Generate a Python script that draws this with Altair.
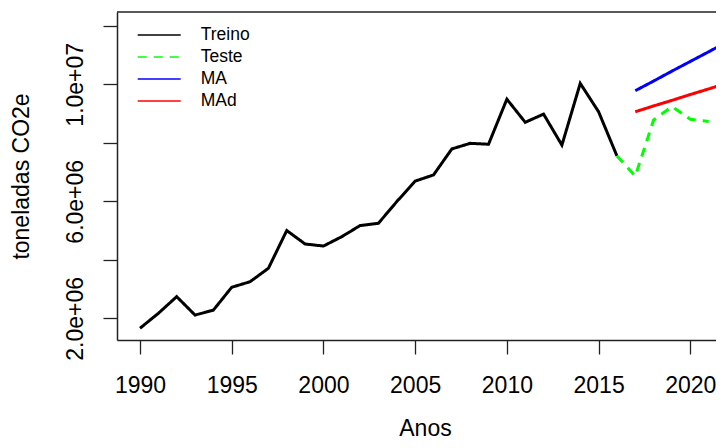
import altair as alt
import pandas as pd

# ---- data (toneladas CO2e) ----
anos_treino = list(range(1990, 2017))
treino = [1.66e6, 2.17e6, 2.74e6, 2.11e6, 2.28e6, 3.06e6, 3.25e6, 3.71e6, 5.00e6, 4.54e6,
          4.47e6, 4.79e6, 5.17e6, 5.25e6, 5.99e6, 6.69e6, 6.90e6, 7.79e6, 7.98e6, 7.95e6,
          9.49e6, 8.70e6, 8.98e6, 7.92e6, 10.03e6, 9.06e6, 7.55e6]
anos_teste = list(range(2016, 2022))
teste = [7.55e6, 6.86e6, 8.78e6, 9.24e6, 8.80e6, 8.73e6]
anos_prev = list(range(2017, 2023))
ma = [9.78e6, 10.11e6, 10.45e6, 10.78e6, 11.11e6, 11.45e6]
mad = [9.06e6, 9.26e6, 9.45e6, 9.65e6, 9.84e6, 10.04e6]

series = ["Treino", "Teste", "MA", "MAd"]
colors = ["#000000", "#00ff00", "#0000ff", "#ff0000"]
dashes = [[1, 0], [9, 7], [1, 0], [1, 0]]

x_ticks = [1990, 1995, 2000, 2005, 2010, 2015, 2020]
y_ticks = [2e6, 4e6, 6e6, 8e6, 10e6, 12e6]
y_labels = {2e6: "2.0e+06", 6e6: "6.0e+06", 10e6: "1.0e+07"}

x_domain = [1988.746, 2021.40]
y_domain = [1.258e6, 12.47e6]

rows = []
for nome, anos, vals in [("Treino", anos_treino, treino), ("Teste", anos_teste, teste),
                         ("MA", anos_prev, ma), ("MAd", anos_prev, mad)]:
    for a, v in zip(anos, vals):
        rows.append({"ano": a, "valor": v, "serie": nome})
df = pd.DataFrame(rows)

label_expr = " : ".join(
    [f"datum.value == {int(k)} ? '{v}'" for k, v in y_labels.items()]) + " : ''"

FONT = "Liberation Sans"
AX = "#222222"

leg = alt.Legend(
    title=None, orient="none", legendX=19.7, legendY=14, padding=0,
    symbolType="stroke", symbolSize=1849, symbolStrokeWidth=1.5,
    clipHeight=18, rowPadding=4, labelOffset=19,
    labelFont=FONT, labelFontSize=17.5, labelColor="#000000", labelLimit=300,
)

x_enc = alt.X(
    "ano:Q",
    scale=alt.Scale(domain=x_domain, nice=False, zero=False),
    axis=alt.Axis(
        values=x_ticks, format="d", title="Anos", grid=False,
        tickSize=14, tickColor=AX, tickWidth=1.3, domainColor=AX, domainWidth=1.5,
        labelFont=FONT, labelFontSize=23, labelColor="#000000", labelPadding=20,
        labelFlush=False, labelOverlap=False,
        titleFont=FONT, titleFontSize=23, titleFontWeight="normal", titleColor="#000000",
        titleX=308, titleY=95, titleBaseline="alphabetic", titleAlign="center",
    ),
)
y_enc = alt.Y(
    "valor:Q",
    scale=alt.Scale(domain=y_domain, nice=False, zero=False),
    axis=alt.Axis(
        values=y_ticks, labelExpr=label_expr, title="toneladas CO2e", grid=False,
        tickSize=14, tickColor=AX, tickWidth=1.3, domainColor=AX, domainWidth=1.5,
        labelFont=FONT, labelFontSize=23, labelColor="#000000", labelPadding=21,
        labelAngle=270, labelAlign="center", labelBaseline="alphabetic",
        labelOverlap=False, labelFlush=False,
        titleFont=FONT, titleFontSize=23, titleFontWeight="normal", titleColor="#000000",
        titleAngle=270, titleX=-89, titleY=164, titleBaseline="alphabetic", titleAlign="center",
    ),
)

lines = alt.Chart(df).mark_line(strokeWidth=3, clip=True).encode(
    x=x_enc,
    y=y_enc,
    color=alt.Color("serie:N", scale=alt.Scale(domain=series, range=colors), legend=leg),
    strokeDash=alt.StrokeDash("serie:N", scale=alt.Scale(domain=series, range=dashes), legend=leg),
)

top = alt.Chart(pd.DataFrame({"valor": [y_domain[1]]})).mark_rule(
    color=AX, strokeWidth=1.5).encode(y=alt.Y("valor:Q"))

chart = alt.layer(lines, top).properties(
    width=599, height=328,
    autosize=alt.AutoSizeParams(type="none"),
    padding={"left": 109, "top": 4, "right": 0, "bottom": 100},
    background="#ffffff",
).configure_view(stroke="transparent")

chart.save("out.html", embed_options={"renderer": "svg", "actions": False})
